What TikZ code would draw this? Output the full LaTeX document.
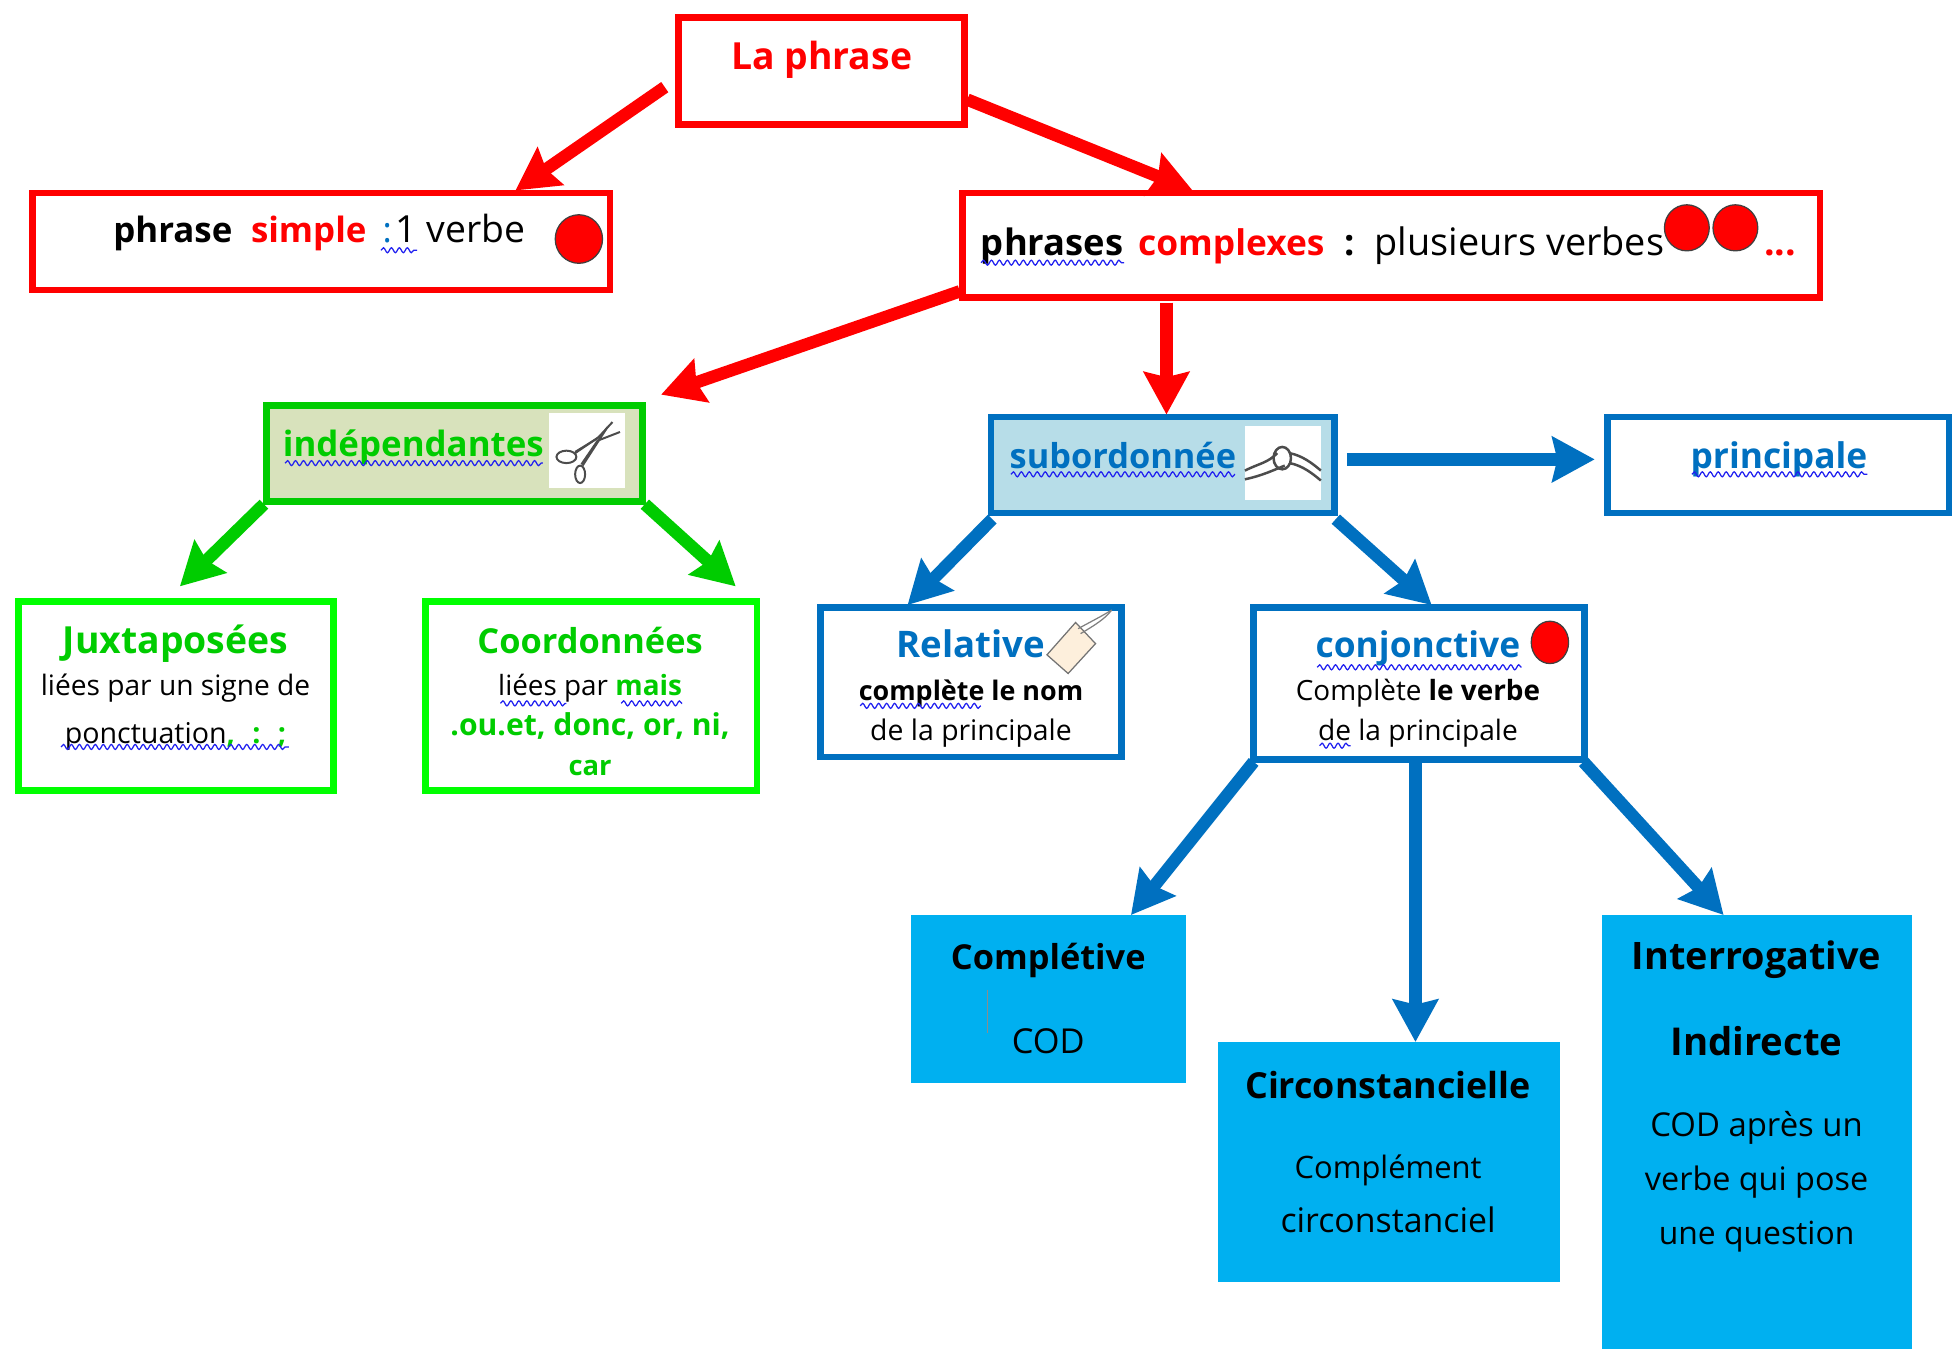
\documentclass[tikz,border=0pt]{standalone}
\usepackage{fontspec}
\setmainfont{Open Sans}
\usetikzlibrary{arrows.meta,decorations.pathmorphing,calc,shapes.geometric}
\definecolor{rougeV}{HTML}{FF0000}
\definecolor{vertF}{HTML}{00CC00}
\definecolor{vertC}{HTML}{00FF00}
\definecolor{bleuF}{HTML}{0070C0}
\definecolor{bleuC}{HTML}{00B0F0}
\definecolor{vertFond}{HTML}{D8E2BC}
\definecolor{bleuFond}{HTML}{B7DDE8}
\definecolor{etiq}{HTML}{FDEFDC}
\definecolor{vague}{HTML}{2020F0}
\newcommand{\mkbox}[6]{%
  \pgfmathsetmacro\bw{(#5-#3)*0.5}\pgfmathsetmacro\bh{(#6-#4)*0.5}%
  \node[#1,minimum width=\bw pt,minimum height=\bh pt] (#2) at ({(#3+#5)/2},{(#4+#6)/2}) {};}
\newcommand{\mkframe}[6]{%
  \pgfmathsetmacro\bw{(#5-#3-4)*0.5}\pgfmathsetmacro\bh{(#6-#4-4)*0.5}%
  \node[#1,minimum width=\bw pt,minimum height=\bh pt] (#2) at ({(#3+#5)/2},{(#4+#6)/2}) {};}
\newcommand{\wv}[3]{\draw[wave] (#1,#3) -- (#2,#3);}
\newcommand{\fs}[1]{\fontsize{#1}{#1}\selectfont}
\tikzset{
  x=0.5pt,y=-0.5pt,
  base/.style={rectangle,inner sep=0pt,outer sep=0pt,line width=2.7pt,draw=#1},
  filled/.style={rectangle,inner sep=0pt,outer sep=0pt,fill=bleuC},
  txt/.style={inner sep=0pt,outer sep=0pt,anchor=base,align=center},
  wave/.style={draw=vague,line width=0.5pt,decorate,decoration={snake,segment length=3.2pt,amplitude=1pt}},
  fl/.style={line width=5pt,-{Stealth[length=17pt,width=18pt,inset=2pt]}},
  dot/.style={ellipse,draw=black!75,line width=0.5pt,fill=rougeV,inner sep=0pt},
  tool/.style={draw=black!70,line width=0.8pt},
}
\begin{document}
\begin{tikzpicture}
\useasboundingbox (0,0) rectangle (1568,1083);
\fill[white] (0,0) rectangle (1568,1083);
% boxes
\mkframe{base=rougeV,fill=white}{lp}{543}{12}{777}{102}
\mkframe{base=rougeV,fill=white}{simple}{24}{153}{492}{235}
\mkframe{base=rougeV,fill=white}{compl}{771}{153}{1464}{241}
\mkframe{base=vertF,fill=vertFond}{indep}{212}{324}{518}{405}
\mkframe{base=bleuF,fill=bleuFond}{subo}{794}{333}{1074}{414}
\mkframe{base=bleuF,fill=white}{princ}{1289}{333}{1568}{414}
\mkframe{base=vertC,fill=white}{juxta}{13}{481}{270}{637}
\mkframe{base=vertC,fill=white}{coord}{340}{481}{610}{637}
\mkframe{base=bleuF,fill=white}{rela}{657}{486}{903}{610}
\mkframe{base=bleuF,fill=white}{conj}{1005}{486}{1275}{612}
\mkbox{filled}{cplt}{732}{735}{953}{870}
\mkbox{filled}{circ}{978}{837}{1253}{1030}
\mkbox{filled}{inter}{1287}{735}{1536}{1090}
% arrows
\draw[fl,draw=rougeV] ([shift={(-11,13)}]lp.west) -- ([shift={(388,-2)}]simple.north west);
\draw[fl,draw=rougeV] ([shift={(2,23)}]lp.east) -- ([shift={(185,-2)}]compl.north west);
\draw[fl,draw=rougeV] ([shift={(-2,37)}]compl.west) -- ([shift={(15,-9)}]indep.north east);
\draw[fl,draw=rougeV] (937,243) -- (937,333);
\draw[fl,draw=vertF] ([shift={(-2,2)}]indep.south west) -- ([shift={(3,-12)}]juxta.north);
\draw[fl,draw=vertF] ([shift={(2,2)}]indep.south east) -- ([shift={(-17,-12)}]coord.north east);
\draw[fl,draw=bleuF] (1082,369) -- (1281,369);
\draw[fl,draw=bleuF] ([shift={(1,5)}]subo.south west) -- ([shift={(70,-2)}]rela.north west);
\draw[fl,draw=bleuF] ([shift={(1,5)}]subo.south east) -- ([shift={(143,-2)}]conj.north west);
\draw[fl,draw=bleuF] ([shift={(0,2)}]conj.south west) -- ([shift={(66,0)}]cplt.north);
\draw[fl,draw=bleuF] (1137,612) -- (1137,837);
\draw[fl,draw=bleuF] ([shift={(-1,2)}]conj.south east) -- ([shift={(-27,0)}]inter.north);
% texts
\node[txt,text=rougeV,font=\bfseries\fs{15}] (t1) at (660,56) {La phrase};
\node[txt,font=\fs{14},anchor=base west] (t2) at (91,195) {\textbf{phrase}\hspace{7.5pt}\textcolor{rougeV}{\textbf{simple}}\hspace{6.5pt}\textcolor{bleuF}{:}\hspace{1.5pt}{\fs{15}1 verbe}};
\node[txt,font=\fs{14.6},anchor=base west] (t3) at (788,205) {\textbf{phrases}\hspace{6pt}\textcolor{rougeV}{\textbf{\fs{14.2}complexes}}\hspace{8pt}\textbf{:}\hspace{8pt}{\fs{15.2}plusieurs verbes}};
\node[txt,text=rougeV,font=\bfseries\fs{15}] (t4) at (1430,205) {...};
\node[txt,text=vertF,font=\bfseries\fs{14}] (t5) at (332,367) {indépendantes};
\node[txt,text=bleuF,font=\bfseries\fs{13.8}] (t6) at (902,376) {subordonnée};
\node[txt,text=bleuF,font=\bfseries\fs{14.2}] (t7) at (1429,376) {principale};
\node[txt,text=vertF,font=\bfseries\fs{15}] (t8) at (141,525) {Juxtaposées};
\node[txt,font=\fs{11.3}] (t9) at (141,559) {liées par un signe de};
\node[txt,font=\fs{11.5}] (t10) at (141,597) {ponctuation\textcolor{vertF}{\textbf{,\hspace{7pt}:\hspace{7pt};}}};
\node[txt,text=vertF,font=\bfseries\fs{13.8}] (t11) at (474,525) {Coordonnées};
\node[txt,font=\fs{11.2}] (t12) at (474,559) {liées par \textcolor{vertF}{\textbf{mais}}};
\node[txt,text=vertF,font=\bfseries\fs{12.1}] (t13) at (474,591) {.ou.et, donc, or, ni,};
\node[txt,text=vertF,font=\bfseries\fs{11}] (t14) at (474,623) {car};
\node[txt,text=bleuF,font=\bfseries\fs{14.7}] (t15) at (780,528) {Relative};
\node[txt,font=\bfseries\fs{10.8}] (t16) at (780,563) {complète le nom};
\node[txt,font=\fs{11.4}] (t17) at (780,595) {de la principale};
\node[txt,text=bleuF,font=\bfseries\fs{14.2}] (t18) at (1139,528) {conjonctive};
\node[txt,font=\fs{11.2}] (t19) at (1139,563) {Complète \textbf{le verbe}};
\node[txt,font=\fs{11.3}] (t20) at (1139,595) {de la principale};
\node[txt,font=\bfseries\fs{13.8}] (t21) at (842,779) {Complétive};
\node[txt,font=\fs{13.8}] (t22) at (842,846) {COD};
\node[txt,font=\bfseries\fs{14.4}] (t23) at (1115,882) {Circonstancielle};
\node[txt,font=\fs{12.4}] (t24) at (1115,947) {Complément};
\node[txt,font=\fs{13.6}] (t25) at (1115,990) {circonstanciel};
\node[txt,font=\bfseries\fs{15.2}] (t26) at (1411,779) {Interrogative};
\node[txt,font=\bfseries\fs{15.4}] (t27) at (1411,848) {Indirecte};
\node[txt,font=\fs{13.2}] (t28) at (1411,913) {COD après un};
\node[txt,font=\fs{13}] (t29) at (1411,956) {verbe qui pose};
\node[txt,font=\fs{12.8}] (t30) at (1411,1000) {une question};
% spelling underlines
\wv{306}{335}{201}
\wv{788}{903}{211}
\wv{229}{436}{372}
\wv{812}{992}{381}
\wv{1359}{1500}{381}
\wv{49}{232}{600}
\wv{402}{455}{565}
\wv{499}{548}{565}
\wv{691}{788}{567}
\wv{1058}{1222}{536}
\wv{1060}{1085}{599}
% dots
\node[dot,minimum width=19pt,minimum height=19.5pt] (d1) at (465,192) {};
\node[dot,minimum width=18pt,minimum height=18.5pt] (d2) at (1355,183) {};
\node[dot,minimum width=18pt,minimum height=18.5pt] (d3) at (1394,183) {};
\node[dot,minimum width=15pt,minimum height=17pt] (d4) at (1245,516) {};
% cursor line in Complétive
\draw[black!45,line width=0.5pt] (793,795) -- (793,830);
% scissors
\fill[white] (441,332) rectangle (502,392);
\draw[tool] (455,367) ellipse (8 and 5);
\draw[tool] (466,381) ellipse (4 and 7);
\draw[tool] (462,363) -- (480,352) -- (492,339);
\draw[tool] (467,373) -- (480,354) -- (498,347);
\draw[tool] (462,364) -- (484,349);
\draw[tool] (468,374) -- (488,343);
% knot
\fill[white] (1000,342) rectangle (1061,402);
\draw[tool,line width=1pt] (1000,378) .. controls (1012,372) and (1018,372) .. (1026,364);
\draw[tool,line width=1pt] (1000,385) .. controls (1014,382) and (1022,378) .. (1032,374);
\draw[tool,line width=1pt] (1036,364) .. controls (1046,366) and (1054,372) .. (1061,378);
\draw[tool,line width=1pt] (1036,372) .. controls (1046,374) and (1054,380) .. (1061,386);
\draw[tool,line width=1pt] (1030,368) ellipse (7 and 9);
% tag
\draw[draw=black!55,fill=etiq,line width=0.5pt] (864,500) -- (880,517) -- (858,541) -- (841,526) -- cycle;
\draw[black!50,line width=0.5pt] (866,505) .. controls (875,500) and (885,495) .. (893,490);
\draw[black!50,line width=0.5pt] (868,509) .. controls (878,503) and (888,497) .. (893,490);
\end{tikzpicture}
\end{document}
